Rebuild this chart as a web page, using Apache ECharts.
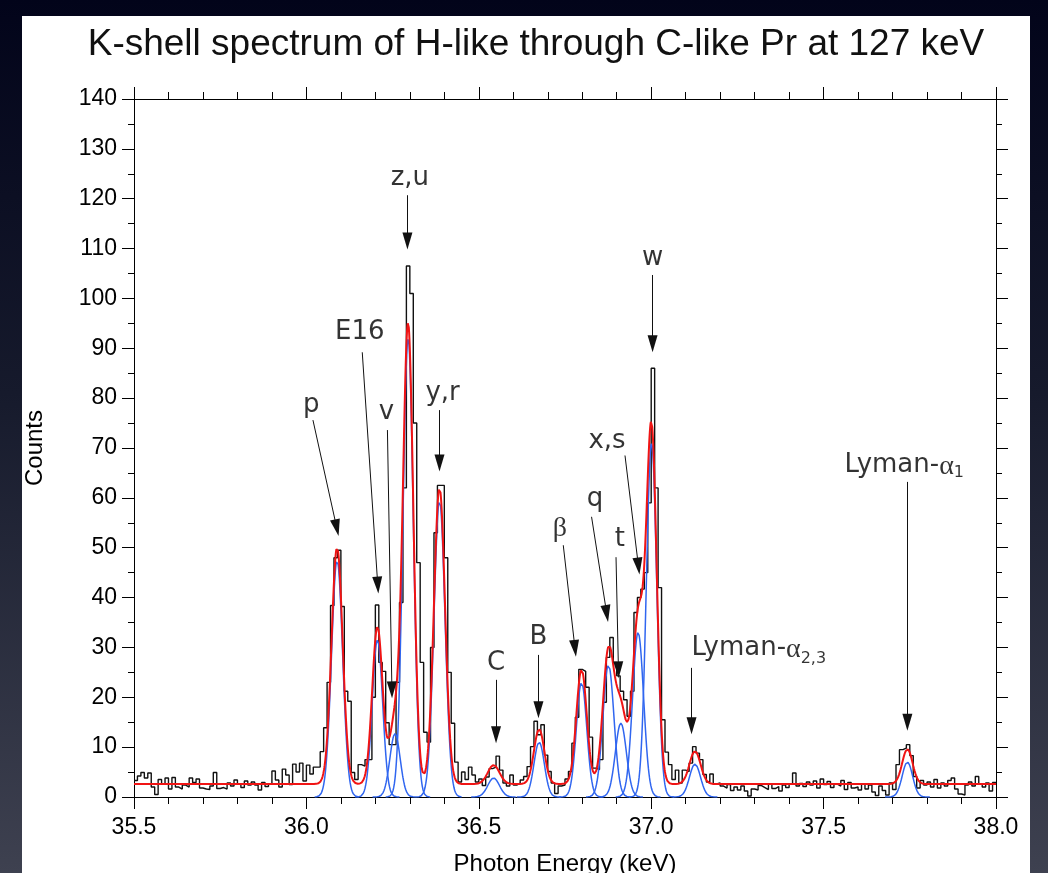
<!DOCTYPE html>
<html><head><meta charset="utf-8">
<script src="https://cdn.jsdelivr.net/npm/echarts@6/dist/echarts.min.js"></script>
<style>
html,body{margin:0;padding:0;width:1048px;height:873px;overflow:hidden;
background:linear-gradient(180deg,#02041a 0%,#161a2c 45%,#3e4150 100%);}
#panel{position:absolute;left:22px;top:16px;width:1008px;height:857px;background:#fff;}
#chart{position:absolute;left:0;top:0;width:1048px;height:873px;}
</style></head><body><div id="panel"></div><div id="chart"></div>
<script>
// ---- data ----
const binStart = 35.50;
const binWidth = 0.01;
const counts = [
3.3,4.2,4.9,3.8,4.8,2.0,0.5,3.5,2.6,3.8,
1.6,3.9,2.0,1.6,2.4,2.0,3.8,2.9,3.6,1.8,
1.6,1.5,2.2,4.9,1.7,1.9,1.6,2.8,2.2,3.4,
2.6,1.9,3.2,2.4,3.0,2.4,1.4,2.9,2.1,2.6,
5.2,3.4,2.0,5.6,4.4,2.5,6.6,5.0,6.8,3.2,
6.4,4.6,6.0,6.0,9.1,13.9,23.0,38.4,48.0,49.5,
38.2,21.2,19.2,4.9,3.5,6.5,6.2,7.5,7.5,20.0,
38.5,27.0,25.2,14.9,10.5,10.5,23.0,39.0,62.0,106.5,
101.0,75.0,47.0,27.0,13.0,11.0,30.0,53.0,62.5,62.5,
48.0,25.0,14.8,7.0,3.0,5.0,3.5,6.0,4.4,3.0,
3.6,2.3,4.0,5.7,6.0,8.2,5.4,2.8,2.2,4.4,
2.4,2.8,3.4,4.1,6.1,10.1,15.2,12.5,14.5,8.4,
5.1,2.8,0.7,2.2,2.4,3.6,5.1,10.8,16.0,25.6,
25.2,22.0,12.0,5.8,5.5,7.5,19.0,28.0,32.0,27.0,
24.3,21.2,19.5,16.2,21.2,37.0,40.0,41.7,45.0,59.0,
86.0,62.0,42.0,15.5,9.0,6.5,3.5,5.4,2.8,5.4,
5.1,6.8,10.1,8.8,7.5,4.5,3.0,4.6,2.6,2.8,
2.2,1.8,2.5,1.3,2.0,1.4,2.2,1.2,0.2,1.6,
1.4,2.3,1.9,1.5,2.6,1.7,2.1,1.2,2.4,1.9,
2.6,4.8,2.2,2.7,2.1,3.0,2.4,3.2,1.8,3.6,
2.5,3.1,1.9,2.6,2.2,3.3,1.5,2.9,1.8,2.0,
1.4,2.6,1.6,2.4,1.0,0.3,2.2,1.3,0.4,2.8,
1.5,6.5,9.5,9.8,10.5,8.3,4.1,1.8,3.3,2.4,
3.0,2.0,3.5,1.8,2.8,2.2,3.3,3.8,1.6,0.6,
0.4,2.4,3.0,2.2,4.1,2.6,2.0,2.8,1.2,2.9
];
// fitted line components (Gaussian fit parameters)
const peakNames   = ['p','E16','v','z,u','y,r','C','B','β','q','t','x,s','w','Lyα2,3','Lyα1'];
const peakCenters = [36.089,36.206,36.257,36.295,36.386,36.543,36.675,36.798,36.876,36.912,36.962,37.001,37.127,37.743];
const peakAmps    = [47.5,31.5,12.7,92,59.5,3.8,11,23,26.5,14.8,33,71,6.6,7];
const peakSigmas  = [0.016,0.015,0.015,0.015,0.016,0.017,0.015,0.015,0.016,0.016,0.016,0.015,0.016,0.015];
const fitBaseline = 2.6;
const fitRange = [35.5, 38.0];
const componentHalfSpan = 0.065;

// annotations (data coordinates)
const annText  = ['p','E16','v','z,u','y,r','C','B','β','q','t','x,s','w','Lyman-α2,3','Lyman-α1'];
const annTextX = [36.014,36.155,36.232,36.300,36.395,36.550,36.673,36.735,36.837,36.909,36.872,37.004,37.312,37.734];
const annTextY = [78.4,93.0,77.0,123.9,80.8,26.6,31.8,53.9,59.5,51.5,71.1,107.8,29.6,66.3];
const arrFromX = [36.019,36.162,36.235,36.293,36.386,36.550,36.673,36.745,36.827,36.898,36.924,37.004,37.117,37.743];
const arrFromY = [75.6,89.2,73.6,120.7,77.6,23.5,28.5,50.5,56.2,48.1,68.5,104.7,25.9,63.2];
const arrToX   = [36.088,36.207,36.248,36.293,36.386,36.550,36.673,36.779,36.871,36.905,36.963,37.004,37.117,37.743];
const arrToY   = [54.0,42.5,21.5,111.5,67.0,12.5,17.5,29.8,36.8,25.5,46.3,90.9,14.3,15.0];

const xMin = 35.5, xMax = 38.0, xInterval = 0.5;
const yMin = 0, yMax = 140, yInterval = 10;

// ---- build series data ----
const histData = counts.map((c, i) => [+(binStart + i * binWidth).toFixed(3), c]);
histData.push([+(binStart + counts.length * binWidth).toFixed(3), counts[counts.length - 1]]);

function gauss(x, k) {
  const d = x - peakCenters[k];
  return peakAmps[k] * Math.exp(-d * d / (2 * peakSigmas[k] * peakSigmas[k]));
}
const step = 0.001;
const fitData = [];
for (let x = fitRange[0]; x <= fitRange[1] + 1e-9; x += step) {
  let y = fitBaseline;
  for (let k = 0; k < peakCenters.length; k++) y += gauss(x, k);
  fitData.push([+x.toFixed(4), y]);
}
const compSeries = peakCenters.map((c, k) => {
  const d = [];
  for (let x = c - componentHalfSpan; x <= c + componentHalfSpan + 1e-9; x += step) d.push([+x.toFixed(4), gauss(x, k)]);
  return { type: 'line', name: peakNames[k], data: d, showSymbol: false, symbol: 'none', silent: true,
    lineStyle: { color: '#3066f0', width: 1.5 }, z: 3, animation: false };
});

const FF = "'Liberation Sans', Arial, Helvetica, sans-serif";
const AF = "'DejaVu Sans', Verdana, sans-serif";
const axisCommon = {
  type: 'value', min: xMin, max: xMax, interval: xInterval,
  axisLine: { show: true, onZero: false, lineStyle: { color: '#000', width: 1 } },
  axisTick: { show: true, inside: false, length: 12, lineStyle: { color: '#000', width: 1 } },
  minorTick: { show: true, splitNumber: 5, length: 7, lineStyle: { color: '#000', width: 1 } },
  splitLine: { show: false }, minorSplitLine: { show: false }
};
const yCommon = {
  type: 'value', min: yMin, max: yMax, interval: yInterval,
  axisLine: { show: true, onZero: false, lineStyle: { color: '#000', width: 1 } },
  axisTick: { show: true, inside: false, length: 12, lineStyle: { color: '#000', width: 1 } },
  minorTick: { show: true, splitNumber: 2, length: 6, lineStyle: { color: '#000', width: 1 } },
  splitLine: { show: false }, minorSplitLine: { show: false }
};

function labelFormatter(p) {
  const t = p.name;
  if (t === 'β') return '{g|β}';
  if (t === 'Lyman-α1') return '{n|Lyman-}{g|α}{s1|1}';
  if (t === 'Lyman-α2,3') return '{n|Lyman-}{g|α}{s2|2,3}';
  return '{n|' + t + '}';
}

const chart = echarts.init(document.getElementById('chart'), null, { renderer: 'canvas' });
chart.setOption({
  backgroundColor: 'transparent',
  animation: false,
  graphic: [{
    type: 'text', x: 536, y: 45,
    style: { text: 'K-shell spectrum of H-like through C-like Pr at 127 keV', fontSize: 37,
      fontFamily: FF, fill: '#111', align: 'center', verticalAlign: 'middle' }
  }],
  grid: { left: 134, right: 52, top: 99, bottom: 76, containLabel: false, outerBoundsMode: 'none' },
  xAxis: [
    Object.assign({}, axisCommon, {
      position: 'bottom',
      axisLabel: { show: true, fontSize: 23, color: '#000', margin: 19, fontFamily: FF,
        formatter: v => v.toFixed(1) },
      name: 'Photon Energy (keV)', nameLocation: 'middle', nameGap: 55,
      nameTextStyle: { fontSize: 24, color: '#000', fontFamily: FF }
    }),
    Object.assign({}, axisCommon, { position: 'top', axisLabel: { show: false } })
  ],
  yAxis: [
    Object.assign({}, yCommon, {
      position: 'left',
      axisLabel: { show: true, fontSize: 23, color: '#000', margin: 17, fontFamily: FF },
      name: 'Counts', nameLocation: 'middle', nameGap: 87, nameRotate: 90,
      nameTextStyle: { fontSize: 24, color: '#000', fontFamily: FF }
    }),
    Object.assign({}, yCommon, { position: 'right', axisLabel: { show: false } })
  ],
  series: [
    { type: 'line', name: 'data', data: histData, step: 'end', showSymbol: false, symbol: 'none',
      lineStyle: { color: '#111', width: 1.4 }, z: 2, silent: true },
    ...compSeries,
    { type: 'line', name: 'fit', data: fitData, showSymbol: false, symbol: 'none', silent: true,
      lineStyle: { color: '#f01414', width: 2 }, z: 4 },
    { type: 'line', name: 'arrows', data: [], z: 5, silent: true,
      markLine: {
        silent: true, animation: false, symbol: ['none', 'triangle'], symbolSize: [10, 17],
        label: { show: false },
        lineStyle: { color: '#111', width: 1, type: 'solid' },
        data: annText.map((t, i) => [
          { coord: [arrFromX[i], arrFromY[i]] },
          { coord: [arrToX[i], arrToY[i]] }
        ])
      } },
    { type: 'scatter', name: 'labels', symbolSize: 0, z: 6, silent: true,
      data: annText.map((t, i) => ({ name: t, value: [annTextX[i], annTextY[i]] })),
      label: { show: true, position: 'inside', formatter: labelFormatter, color: '#000',
        rich: {
          n: { fontSize: 26, fontFamily: AF, color: '#000', lineHeight: 28, verticalAlign: 'top' },
          g: { fontSize: 28, fontFamily: "'Liberation Serif', serif", color: '#000', lineHeight: 28, verticalAlign: 'top' },
          s1: { fontSize: 16, fontFamily: AF, color: '#000', lineHeight: 17, padding: [12, 0, 0, 0], verticalAlign: 'top' },
          s2: { fontSize: 16, fontFamily: AF, color: '#000', lineHeight: 17, padding: [15, 0, 0, 0], verticalAlign: 'top' }
        } } }
  ]
});
</script></body></html>
